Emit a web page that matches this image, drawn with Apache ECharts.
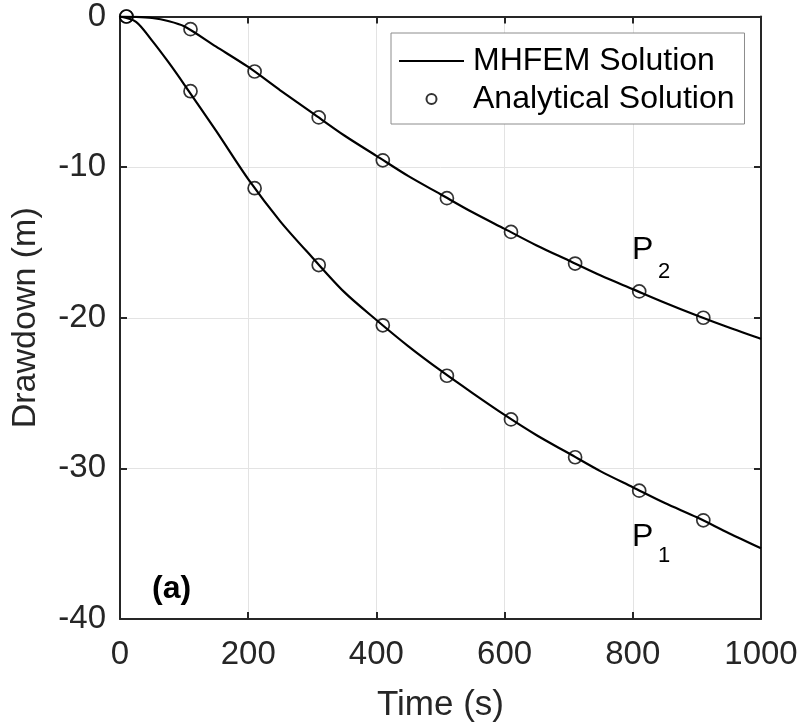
<!DOCTYPE html>
<html>
<head>
<meta charset="utf-8">
<script src="https://cdn.jsdelivr.net/npm/echarts@6/dist/echarts.min.js"></script>
<style>
html,body{margin:0;padding:0;background:#fff;}
#chart{width:802px;height:728px;}
</style>
</head>
<body>
<div id="chart"></div>
<script>
// Time axis (s) for the MHFEM curves
const lineTime = [0, 25, 50, 75, 100, 150, 200, 250, 300, 350, 400, 450, 500, 550, 600, 650, 700, 750, 800, 850, 900, 950, 1000];
const p1Line = [0, -0.35, -1.6, -3.0, -4.5, -7.6, -10.8, -13.6, -16.0, -18.3, -20.15, -21.9, -23.5, -25.0, -26.45, -27.8, -29.0, -30.2, -31.25, -32.3, -33.25, -34.3, -35.3];
const p2Line = [0, -0.02, -0.1, -0.3, -0.65, -2.0, -3.35, -4.9, -6.4, -7.9, -9.25, -10.6, -11.8, -13.0, -14.1, -15.2, -16.2, -17.2, -18.1, -19.0, -19.85, -20.65, -21.4];
// Analytical solution points
const markTime = [10, 110, 210, 310, 410, 510, 610, 710, 810, 910];
const p1Analytical = [0, -4.96, -11.4, -16.5, -20.5, -23.85, -26.75, -29.26, -31.48, -33.45];
const p2Analytical = [0, -0.84, -3.65, -6.7, -9.55, -12.06, -14.3, -16.4, -18.25, -20.0];
const xTicks = [0, 200, 400, 600, 800, 1000];
const yTicks = [0, -10, -20, -30, -40];
const legendNames = ['MHFEM Solution', 'Analytical Solution'];

const zip = (a, b) => a.map((v, i) => [v, b[i]]);
const FONT = 'Liberation Sans';
const AX = '#262626';

const chart = echarts.init(document.getElementById('chart'), null, {renderer: 'canvas'});

const lineSeries = (data) => ({
  name: legendNames[0], type: 'line', data: data, smooth: 0.3, symbol: 'none',
  lineStyle: {color: '#000', width: 2.2}, itemStyle: {color: '#000'}, z: 3, xAxisIndex: 0, yAxisIndex: 0
});
const markSeries = (data) => ({
  name: legendNames[1], type: 'scatter', data: data, symbol: 'circle', symbolSize: 13,
  itemStyle: {color: 'rgba(255,255,255,0)', borderColor: '#000', borderWidth: 1.7}, z: 4, xAxisIndex: 0, yAxisIndex: 0
});

chart.setOption({
  animation: false,
  backgroundColor: '#fff',
  textStyle: {fontFamily: FONT},
  grid: {left: 120, top: 14, right: 41, bottom: 107, containLabel: false},
  legend: {
    orient: 'vertical', left: 391, top: 33,
    data: [
      {name: legendNames[0], itemStyle: {color: 'rgba(0,0,0,0)', borderWidth: 0}},
      {name: legendNames[1]}
    ],
    itemWidth: 65, itemHeight: 10, itemGap: 6,
    padding: [12, 10, 9, 7],
    borderColor: '#8c8c8c', borderWidth: 1, backgroundColor: '#fff',
    textStyle: {fontFamily: FONT, fontSize: 32, color: '#000', padding: [0, 0, 0, 4]}
  },
  xAxis: [{
    type: 'value', min: 0, max: 1000, interval: 200,
    name: 'Time (s)', nameLocation: 'middle', nameGap: 69,
    nameTextStyle: {fontFamily: FONT, fontSize: 35, color: AX},
    axisLine: {show: true, onZero: false, lineStyle: {color: AX, width: 2}},
    axisTick: {show: true, inside: true, length: 7, lineStyle: {color: AX, width: 2}},
    axisLabel: {fontFamily: FONT, fontSize: 33, color: AX, margin: 19,
      formatter: (v) => xTicks.includes(v) ? String(v) : ''},
    splitLine: {show: true, lineStyle: {color: '#e3e3e3', width: 1}}
  }, {
    type: 'value', min: 0, max: 1000, interval: 200, position: 'top',
    axisLine: {show: true, onZero: false, lineStyle: {color: AX, width: 2}},
    axisTick: {show: true, inside: true, length: 7, lineStyle: {color: AX, width: 2}},
    axisLabel: {show: false}, splitLine: {show: false}
  }],
  yAxis: [{
    type: 'value', min: -40, max: 0, interval: 10,
    name: 'Drawdown (m)', nameLocation: 'middle', nameGap: 77,
    nameTextStyle: {fontFamily: FONT, fontSize: 34, color: AX},
    axisLine: {show: true, onZero: false, lineStyle: {color: AX, width: 2}},
    axisTick: {show: true, inside: true, length: 7, lineStyle: {color: AX, width: 2}},
    axisLabel: {fontFamily: FONT, fontSize: 33, color: AX, margin: 14,
      formatter: (v) => yTicks.includes(v) ? String(v) : ''},
    splitLine: {show: true, lineStyle: {color: '#e3e3e3', width: 1}}
  }, {
    type: 'value', min: -40, max: 0, interval: 10, position: 'right',
    axisLine: {show: true, onZero: false, lineStyle: {color: AX, width: 2}},
    axisTick: {show: true, inside: true, length: 7, lineStyle: {color: AX, width: 2}},
    axisLabel: {show: false}, splitLine: {show: false}
  }],
  series: [
    lineSeries(zip(lineTime, p1Line)),
    lineSeries(zip(lineTime, p2Line)),
    markSeries(zip(markTime, p1Analytical)),
    markSeries(zip(markTime, p2Analytical))
  ],
  graphic: [
    {type: 'text', left: 152, top: 573, style: {text: '(a)', font: 'bold 32px "Liberation Sans"', fill: '#000'}},
    {type: 'text', left: 632, top: 234, style: {text: 'P', font: '32px "Liberation Sans"', fill: '#000'}},
    {type: 'text', left: 658, top: 261, style: {text: '2', font: '22px "Liberation Sans"', fill: '#000'}},
    {type: 'text', left: 632, top: 521, style: {text: 'P', font: '32px "Liberation Sans"', fill: '#000'}},
    {type: 'text', left: 658, top: 545, style: {text: '1', font: '22px "Liberation Sans"', fill: '#000'}}
  ]
});
</script>
</body>
</html>
